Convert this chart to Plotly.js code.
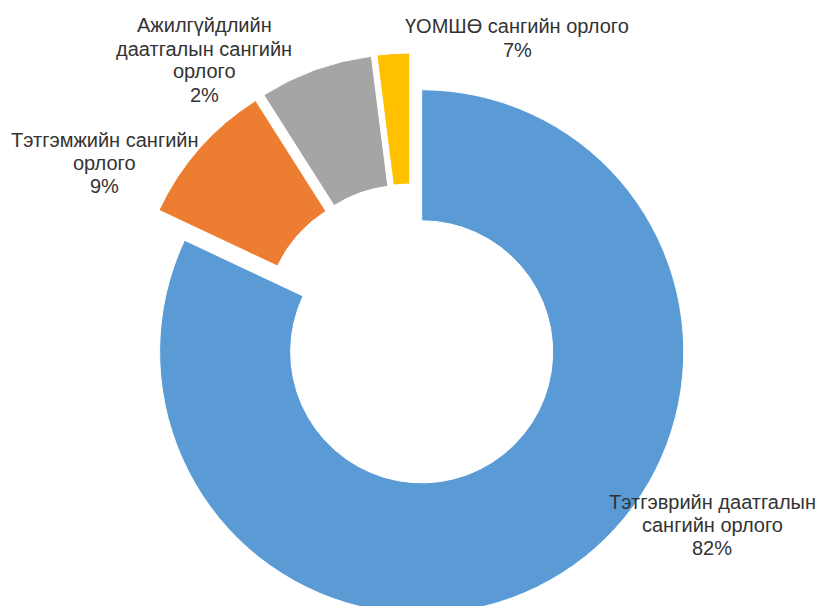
<!DOCTYPE html>
<html>
<head>
<meta charset="utf-8">
<script src="https://cdn.plot.ly/plotly-3.0.1.min.js"></script>
<style>
  html, body { margin: 0; padding: 0; overflow: hidden; background: #fff; }
  #chart { width: 816px; height: 640px; }
</style>
</head>
<body>
<div id="chart"></div>
<script>
// slice data, clockwise from 12 o'clock
var funds = ['Тэтгэврийн даатгалын сангийн орлого', 'Тэтгэмжийн сангийн орлого',
             'Ажилгүйдлийн даатгалын сангийн орлого', 'ҮОМШӨ сангийн орлого'];
var shares = [82, 9, 7, 2];
var colours = ['#5B9BD5', '#ED7D31', '#A5A5A5', '#FFC000'];

// data labels as printed on the chart
var labelText = [
    'Тэтгэврийн даатгалын<br>сангийн орлого<br>82%',
    'Тэтгэмжийн сангийн<br>орлого<br>9%',
    'Ажилгүйдлийн<br>даатгалын сангийн<br>орлого<br>2%',
    'ҮОМШӨ сангийн орлого<br>7%'
];

const W = 816, H = 640;
const lineGap = 23;
// label block centres in pixels
var labelPos = [[712, 525], [105, 163], [204, 60], [517, 38]];

var trace = {
    type: 'pie',
    labels: funds,
    values: shares,
    sort: false,
    direction: 'clockwise',
    rotation: 0,
    hole: 0.5,
    pull: 0.076,
    textinfo: 'none',
    hoverinfo: 'label+percent',
    marker: {
        colors: colours,
        line: { color: '#fff', width: 1 }
    },
    domain: { x: [129 / W, 693 / W], y: [1 - 617 / H, 1 - 53 / H] }
};

// one annotation per line so the line spacing can be kept tight like Excel's
var annotations = [];
labelText.forEach(function (t, i) {
    var lines = t.split('<br>');
    lines.forEach(function (line, k) {
        var py = labelPos[i][1] + (k - (lines.length - 1) / 2) * lineGap;
        annotations.push({
            xref: 'paper',
            yref: 'paper',
            x: labelPos[i][0] / W,
            y: 1 - py / H,
            xanchor: 'center',
            yanchor: 'middle',
            text: line,
            showarrow: false,
            font: { family: 'Liberation Sans, Arial, sans-serif', size: 20, color: '#333333' }
        });
    });
});

var layout = {
    width: W,
    height: H,
    margin: { l: 0, r: 0, t: 0, b: 0 },
    showlegend: false,
    paper_bgcolor: '#fff',
    annotations: annotations
};

Plotly.newPlot('chart', [trace], layout, { displayModeBar: false, staticPlot: true });
</script>
</body>
</html>
